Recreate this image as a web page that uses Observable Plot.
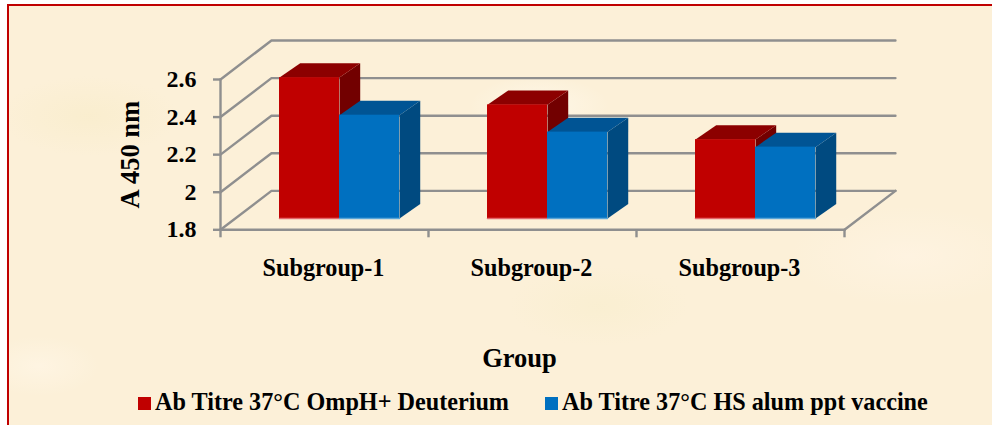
<!DOCTYPE html>
<html><head><meta charset="utf-8">
<script src="https://cdn.jsdelivr.net/npm/d3@7"></script>
<script src="https://cdn.jsdelivr.net/npm/@observablehq/plot@0.6"></script>
<style>
html,body{margin:0;padding:0;background:#fff;width:992px;height:425px;overflow:hidden}
#frame{position:absolute;left:7px;top:4px;width:985px;height:421px;box-sizing:border-box;border-left:2.5px solid #c00000;border-top:2.5px solid #c00000;
background:
 radial-gradient(ellipse 70px 30px at 530px 100px,rgba(255,250,238,.7),transparent),
 radial-gradient(ellipse 60px 30px at 30px 360px,rgba(255,246,230,.7),transparent),
 radial-gradient(ellipse 90px 40px at 80px 110px,rgba(248,236,200,.6),transparent),
 radial-gradient(ellipse 90px 40px at 590px 300px,rgba(248,238,205,.6),transparent),
 radial-gradient(ellipse 120px 50px at 900px 250px,rgba(255,244,228,.7),transparent),
 #fcf0d8}
#chart{position:absolute;left:0;top:0}
#chart svg{background:transparent;display:block}
#legend{position:absolute;left:0;top:385px;width:992px;height:36px;font:bold 24.2px "Liberation Serif",serif;color:#000;white-space:nowrap}
#legend span{position:absolute;top:0;line-height:34px}
#legend i{position:absolute;top:12px;width:13px;height:13px}
</style></head><body>
<div id="frame"></div>
<div id="chart"></div>
<div id="legend"></div>
<script>
const groups = ["Subgroup-1","Subgroup-2","Subgroup-3"];
const seriesNames = ["Ab Titre 37°C OmpH+ Deuterium","Ab Titre 37°C HS alum ppt vaccine"];
const omphValues = [2.55,2.405,2.22];
const alumValues = [2.35,2.26,2.18];
const yTicks = [1.8,2,2.2,2.4,2.6];
const faces = [
  {front:"#c00000",top:"#8c0000",side:"#720000",edge:"#e4666a"},
  {front:"#0070c0",top:"#005494",side:"#004a80",edge:"#5ba6d8"}
];
const base = 1.8;
// 3-D projection constants, in data units
const wallX = 0.245, wallY = 0.2074;
const barW = 0.2885, barStart = 0.2837, liftY = 0.06, depthX = 0.0995, depthY = 0.077;

const wallLines = yTicks.flatMap(v => [
  {k:v,x:0,y:v},{k:v,x:wallX,y:v+wallY},{k:v,x:3+wallX,y:v+wallY}
]);
const floorEdge = [{x:3,y:base},{x:3+wallX,y:base+wallY}];
const frontFloor = [{x:0,y:base},{x:3,y:base}];
const yLine = [{x:0,y:base},{x:0,y:2.6}];

function barMarks(values, s){
  const rows = values.map((v,i)=>{
    const x0 = i+barStart+s*barW, x1 = x0+barW, yb = base+liftY, yt = v+liftY;
    return {i,x0,x1,yb,yt};
  });
  const top = rows.flatMap(r=>[
    {k:r.i,x:r.x0,y:r.yt},{k:r.i,x:r.x1,y:r.yt},{k:r.i,x:r.x1+depthX,y:r.yt+depthY},{k:r.i,x:r.x0+depthX,y:r.yt+depthY}]);
  const side = rows.flatMap(r=>[
    {k:r.i,x:r.x1,y:r.yb},{k:r.i,x:r.x1,y:r.yt},{k:r.i,x:r.x1+depthX,y:r.yt+depthY},{k:r.i,x:r.x1+depthX,y:r.yb+depthY}]);
  const edge = rows.flatMap(r=>[{k:r.i,x:r.x0,y:r.yb},{k:r.i,x:r.x1,y:r.yb}]);
  const f = faces[s];
  return [
    Plot.line(side,{x:"x",y:"y",z:"k",fill:f.side}),
    Plot.line(top,{x:"x",y:"y",z:"k",fill:f.top}),
    Plot.rect(rows,{x1:"x0",x2:"x1",y1:"yb",y2:"yt",fill:f.front}),
    Plot.line(edge,{x:"x",y:"y",z:"k",stroke:f.edge,strokeWidth:1.5})
  ];
}
const gray="#8f8f8f";
const font='"Liberation Serif",serif';
const svg = Plot.plot({
  width:992,height:385,
  marginLeft:220,marginRight:148,marginTop:79,marginBottom:155.7,
  x:{domain:[0,3]},
  y:{domain:[1.8,2.6]},
  style:{background:"transparent",fontFamily:font,fontWeight:"bold",color:"#000"},
  marks:[
    Plot.line(wallLines,{x:"x",y:"y",z:"k",stroke:gray,strokeWidth:2.4}),
    Plot.line(floorEdge,{x:"x",y:"y",stroke:gray,strokeWidth:2.4}),
    Plot.line(frontFloor,{x:"x",y:"y",stroke:gray,strokeWidth:2.4}),
    Plot.line(yLine,{x:"x",y:"y",stroke:gray,strokeWidth:2.4}),
    Plot.axisY({ticks:yTicks,tickFormat:d=>String(d),tickSize:7,tickPadding:17,stroke:gray,strokeWidth:2.4,fill:"#000",fontSize:24,label:null}),
    Plot.axisY({ticks:[],fontSize:26.5,label:"A 450 nm",labelAnchor:"center",labelOffset:100,labelArrow:"none",fill:"#000"}),
    Plot.axisX({ticks:[0,1,2,3],tickFormat:()=>"",tickSize:8,stroke:gray,strokeWidth:2.4,label:null}),
    Plot.axisX({ticks:[0.5,1.5,2.5],tickFormat:d=>groups[Math.floor(d)],tickSize:0,tickPadding:29,dx:-1,fill:"#000",fontSize:24.2,label:null}),
    Plot.text(["Group"],{frameAnchor:"bottom",lineAnchor:"middle",dx:-13,dy:129,fontSize:26.5,fill:"#000"}),
    ...barMarks(omphValues,0),
    ...barMarks(alumValues,1)
  ]
});
document.getElementById("chart").appendChild(svg);
const legend=document.getElementById("legend");
[[138,155],[545,562]].forEach(([a,b],i)=>{
  const m=document.createElement("i");m.style.left=a+"px";m.style.background=faces[i].front;legend.appendChild(m);
  const t=document.createElement("span");t.style.left=b+"px";t.textContent=seriesNames[i];legend.appendChild(t);
});
</script>
</body></html>
